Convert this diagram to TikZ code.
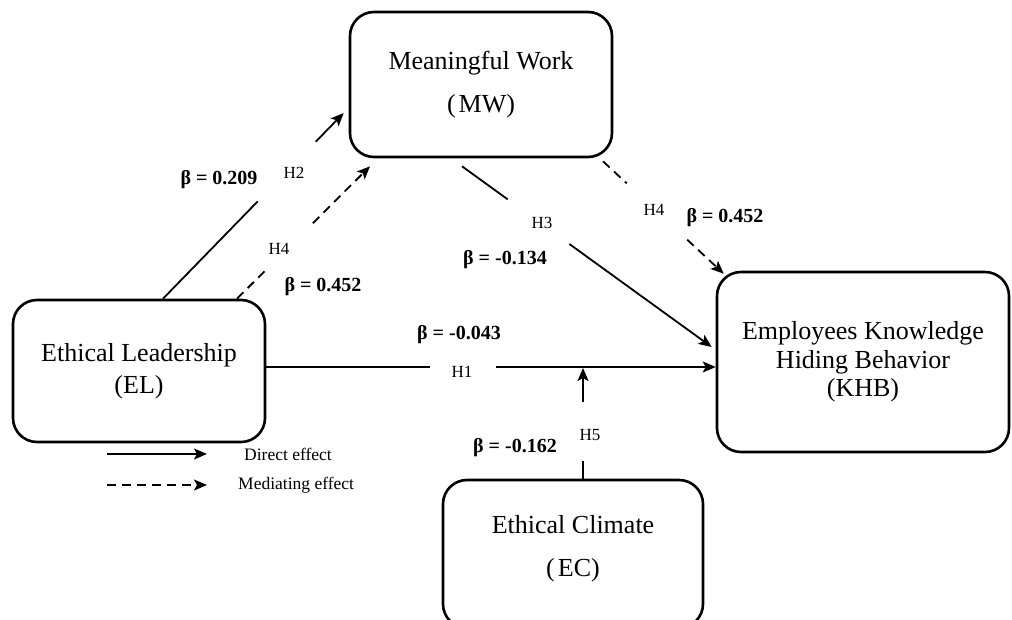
\documentclass[tikz,border=0pt]{standalone}
\usepackage{fontspec}
\setmainfont{Liberation Serif}
\usetikzlibrary{arrows.meta,calc}
\begin{document}
\begin{tikzpicture}[x=1pt,y=-1pt,
  box/.style={draw, line width=2.6pt, rounded corners=24pt, inner sep=0pt, align=center},
  conn/.style={line width=1.8pt},
  tip/.style={-{Stealth[length=13pt,width=11pt,inset=3pt]}},
  dsh/.style={dash pattern=on 9pt off 6pt},
  beta/.style={font=\fontsize{20}{24}\selectfont\bfseries, inner sep=0pt},
  hyp/.style={font=\fontsize{17}{20}\selectfont, inner sep=0pt},
  leg/.style={font=\fontsize{17.5}{20}\selectfont, inner sep=0pt, anchor=west},
]
\useasboundingbox (0,0) rectangle (1012,620);

% boxes
\node[box, minimum width=252pt, minimum height=142pt, font=\fontsize{26}{32}\selectfont] (EL) at (139,371) {Ethical Leadership\\(EL)};
\node[box, minimum width=262pt, minimum height=145pt, font=\fontsize{26}{43}\selectfont] (MW) at (481,84.5) {Meaningful Work\\(\kern3pt MW)};
\node[box, minimum width=292pt, minimum height=180pt, font=\fontsize{26}{28.5}\selectfont] (KHB) at (863,362) {Employees Knowledge\\Hiding Behavior\\(KHB)};
\node[box, minimum width=260pt, minimum height=148pt, font=\fontsize{26}{43}\selectfont] (EC) at (573,554) {Ethical Climate\\(\kern3pt EC)\rule[-16pt]{0pt}{0pt}};

% H2: EL -> MW (direct)
\coordinate (h2s) at ($(EL.north)+(24,0)$);
\coordinate (h2e) at ($(MW.west)+(-5,28.5)$);
\draw[conn] (h2s) -- ($(h2s)!0.524!(h2e)$);
\draw[conn,tip] ($(h2s)!0.845!(h2e)$) -- (h2e);

% H4: EL -> MW (mediating)
\coordinate (h4s) at ($(EL.north)+(98,0)$);
\coordinate (h4e) at ($(MW.south)+(-111,8)$);
\draw[conn,dsh] (h4s) -- ($(h4s)!0.207!(h4e)$);
\draw[conn,dsh,tip] ($(h4s)!0.57!(h4e)$) -- (h4e);

% H3: MW -> KHB
\coordinate (h3s) at ($(MW.south)+(-19,8)$);
\coordinate (h3e) at ($(KHB.west)+(-4,-15)$);
\draw[conn] (h3s) -- ($(h3s)!0.183!(h3e)$);
\draw[conn,tip] ($(h3s)!0.43!(h3e)$) -- (h3e);

% H4: MW -> KHB (mediating)
\coordinate (m4s) at ($(MW.south)+(122,3)$);
\coordinate (m4e) at ($(KHB.north west)+(8,3)$);
\draw[conn,dsh] (m4s) -- ($(m4s)!0.197!(m4e)$);
\draw[conn,dsh,tip] ($(m4s)!0.697!(m4e)$) -- (m4e);

% H1: EL -> KHB
\coordinate (h1s) at ($(EL.east)+(0,-4)$);
\coordinate (h1e) at ($(KHB.west)+(0,5)$);
\draw[conn] (h1s) -- ($(h1s)!0.365!(h1e)$);
\draw[conn,tip] ($(h1s)!0.511!(h1e)$) -- (h1e);

% H5: EC -> H1 path
\coordinate (h5s) at ($(EC.north)+(10,0)$);
\coordinate (h5e) at (h5s |- h1s);
\draw[conn] (h5s) -- ($(h5s)!0.16!(h5e)$);
\draw[conn,tip,shorten >=1pt] ($(h5s)!0.69!(h5e)$) -- (h5e);

% labels
\node[beta] (b209) at (219,180) {β = 0.209};
\node[hyp] (lh2) at (294,173) {H2};
\node[hyp] (lh4a) at (279,249) {H4};
\node[beta] (b452a) at (323,287) {β = 0.452};
\node[hyp] (lh3) at (542,223) {H3};
\node[beta] (b134) at (505,260) {β = -0.134};
\node[hyp] (lh4b) at (654,210) {H4};
\node[beta] (b452b) at (725,218) {β = 0.452};
\node[beta] (b043) at (459,335) {β = -0.043};
\node[hyp] (lh1) at (462,372) {H1};
\node[beta] (b162) at (515,448) {β = -0.162};
\node[hyp] (lh5) at (590,435) {H5};

% legend
\coordinate (la1) at (107,454);
\coordinate (la2) at (207,454);
\coordinate (lb1) at (107,485);
\coordinate (lb2) at (207,485);
\draw[conn,tip] (la1) -- (la2);
\draw[conn,dsh,tip] (lb1) -- (lb2);
\node[leg] (ld) at (244,454) {Direct effect};
\node[leg] (lm) at (238,485) {Mediating effect};
\end{tikzpicture}
\end{document}
